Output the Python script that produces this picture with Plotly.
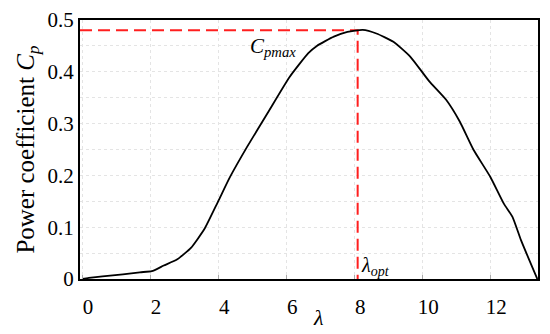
import plotly.graph_objects as go

# Data
lam = [0, 0.2, 0.6, 1.2, 1.7, 2.05, 2.4, 2.8, 3.2, 3.6, 4.0, 4.35, 4.85, 5.45, 6.1,
       6.65, 6.9, 7.4, 7.8, 8.25, 8.65, 9.15, 9.65, 10.2, 10.7, 11.1, 11.5, 12.0,
       12.4, 12.65, 12.9, 13.38]
cp = [0, 0.002, 0.005, 0.009, 0.013, 0.015, 0.026, 0.038, 0.06, 0.097, 0.15, 0.197,
      0.255, 0.32, 0.39, 0.436, 0.45, 0.468, 0.477, 0.481, 0.474, 0.458, 0.429, 0.382,
      0.346, 0.304, 0.25, 0.197, 0.145, 0.12, 0.075, 0.0]

lam_opt = 8.1
cp_max = 0.48
x_ticks = [0, 2, 4, 6, 8, 10, 12]
y_ticks = [0, 0.1, 0.2, 0.3, 0.4, 0.5]
y_tick_text = ["0", "0.1", "0.2", "0.3", "0.4", "0.5"]
X_RANGE = [-0.06, 13.4]
Y_RANGE = [0, 0.5]

FONT = "'Liberation Serif', 'Times New Roman', serif"

fig = go.Figure()
fig.add_trace(go.Scatter(
    x=[X_RANGE[0], lam_opt, lam_opt], y=[cp_max, cp_max, 0],
    mode="lines", line=dict(color="#ff1f1f", width=2, dash="12px,6px"),
    hoverinfo="skip", showlegend=False, cliponaxis=False))
fig.add_trace(go.Scatter(
    x=lam, y=cp, mode="lines",
    line=dict(color="black", width=1.8, shape="spline", smoothing=0.5),
    showlegend=False))

fig.add_annotation(x=5.6, y=0.447, xref="x", yref="y", text="<i>C<sub>pmax</sub></i>",
                   showarrow=False, font=dict(family=FONT, size=21, color="black"))
fig.add_annotation(x=lam_opt, y=0.024, xref="x", yref="y", text="<i>λ<sub>opt</sub></i>",
                   showarrow=False, xanchor="left", xshift=1,
                   font=dict(family=FONT, size=20, color="black"))
# x-axis title (placed as annotation to match its off-centre position)
fig.add_annotation(x=6.95, y=0, xref="x", yref="paper", yanchor="middle", yshift=-38,
                   text="<i>λ</i>",
                   showarrow=False, font=dict(family=FONT, size=22, color="black"))

# page body has an 8px default margin, so the figure is shrunk by 8px
fig.update_layout(
    template="none",
    width=542, height=326,
    margin=dict(l=72, r=12, t=12, b=55, autoexpand=False),
    paper_bgcolor="white", plot_bgcolor="white",
    font=dict(family=FONT, size=21, color="black"),
    xaxis=dict(range=X_RANGE, tickvals=x_ticks, showline=True, mirror=True,
               linecolor="black", linewidth=2, ticks="inside", ticklen=4,
               tickcolor="#aaaaaa", showgrid=True, gridcolor="#e4e4e4",
               griddash="dot", gridwidth=1, zeroline=False, automargin=False,
               ticklabelshift=6, ticklabelstandoff=8,
               tickfont=dict(family=FONT, size=21, color="black")),
    yaxis=dict(range=Y_RANGE, tickvals=y_ticks, ticktext=y_tick_text,
               showline=True, mirror=True, linecolor="black", linewidth=2,
               ticks="", showgrid=True, gridcolor="#e4e4e4", griddash="dot",
               zeroline=False, automargin=False,
               minor=dict(dtick=0.05, showgrid=True, gridcolor="#e4e4e4", griddash="dot"),
               title=dict(text="Power coefficient <i>C<sub>p</sub></i>",
                          font=dict(family=FONT, size=25, color="black"), standoff=6),
               tickfont=dict(family=FONT, size=21, color="black")),
)

fig.write_html("out.html")
